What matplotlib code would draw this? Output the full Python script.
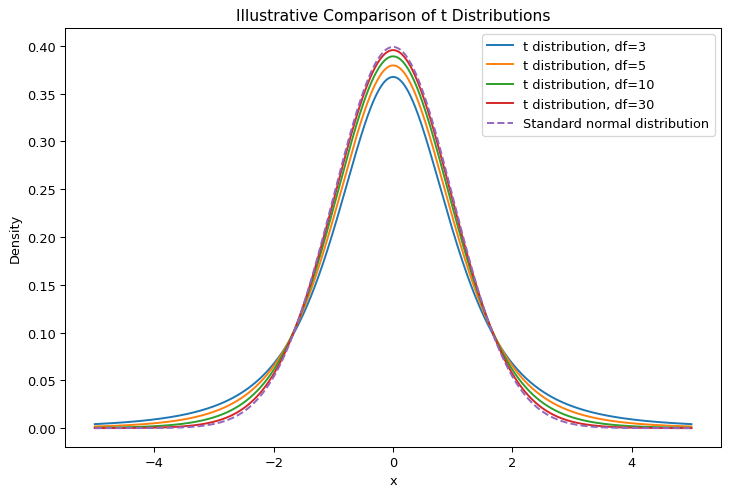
import numpy as np
import matplotlib.pyplot as plt
from math import gamma, pi, sqrt

# degrees of freedom shown
dfs = [3, 5, 10, 30]
x_min, x_max = -5, 5

x = np.linspace(x_min, x_max, 1000)

def t_pdf(x, df):
    c = gamma((df + 1) / 2) / (sqrt(df * pi) * gamma(df / 2))
    return c * (1 + x**2 / df) ** (-(df + 1) / 2)

dpi = 93
fig, ax = plt.subplots(figsize=(730 / dpi, 498 / dpi), dpi=dpi)

for df in dfs:
    ax.plot(x, t_pdf(x, df), label='t distribution, df={}'.format(df))

# standard normal
ax.plot(x, np.exp(-x**2 / 2) / sqrt(2 * pi), '--', label='Standard normal distribution')

ax.set_title('Illustrative Comparison of t Distributions')
ax.set_xlabel('x')
ax.set_ylabel('Density')
ax.legend(loc='upper right')

fig.subplots_adjust(left=0.089, right=0.988, top=0.942, bottom=0.100)
fig.savefig('out.png', dpi=dpi)
